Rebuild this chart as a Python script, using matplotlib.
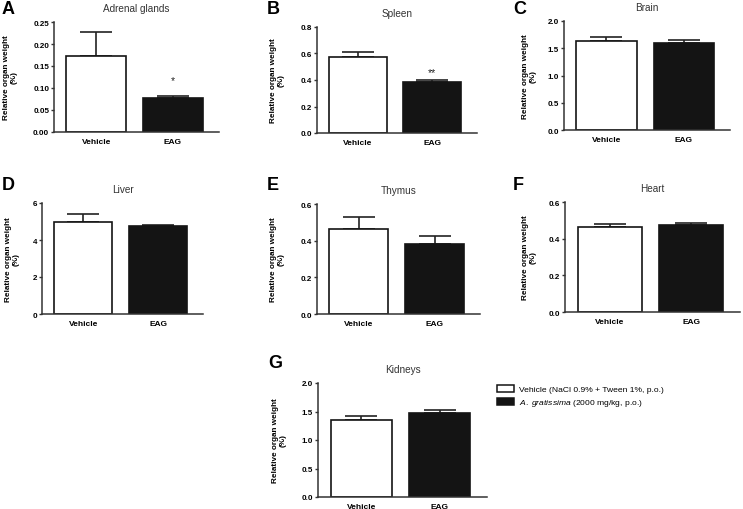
import matplotlib
matplotlib.use("Agg")
import matplotlib.pyplot as plt
from matplotlib.patches import Patch
import numpy as np

plt.rcParams['font.family'] = ['Liberation Sans', 'DejaVu Sans']
plt.rcParams['mathtext.fontset'] = 'custom'
plt.rcParams['mathtext.it'] = 'Liberation Sans:italic'
plt.rcParams['mathtext.rm'] = 'Liberation Sans'

# ---- data ----
groups = ["Vehicle", "EAG"]
panel_letters = ["A", "B", "C", "D", "E", "F", "G"]
organs = ["Adrenal glands", "Spleen", "Brain", "Liver", "Thymus", "Heart", "Kidneys"]
vehicle_mean = [0.172, 0.572, 1.63, 5.00, 0.462, 0.465, 1.35]
vehicle_sem = [0.056, 0.038, 0.07, 0.38, 0.068, 0.014, 0.065]
eag_mean = [0.078, 0.382, 1.60, 4.75, 0.380, 0.472, 1.47]
eag_sem = [0.004, 0.016, 0.05, 0.07, 0.046, 0.012, 0.06]
y_max = [0.25, 0.8, 2.0, 6, 0.6, 0.6, 2.0]
y_step = [0.05, 0.2, 0.5, 2, 0.2, 0.2, 0.5]
y_fmt = ["%.2f", "%.1f", "%.1f", "%d", "%.1f", "%.1f", "%.1f"]
stars = ["*", "**", "", "", "", "", ""]
star_y = [0.118, 0.46, None, None, None, None, None]
legend_labels = ["Vehicle (NaCl 0.9% + Tween 1%, p.o.)",
                 r"$\it{A.\ gratissima}$ (2000 mg/kg, p.o.)"]

# ---- layout (pixels) ----
W, H = 743, 510
# left, right, top, bottom of axes in pixels
boxes = [(54, 219, 23, 133), (317, 477, 28, 134), (564, 730, 22, 131),
         (42, 203, 204, 315), (317, 480, 205, 315), (565, 740, 203, 313),
         (318, 487, 384, 498)]
label_right = [18, 285, 537, 20, 285, 537, 287]
letter_pos = [(2, 10), (267, 9), (513, 10), (2, 186), (267, 186), (513, 186), (268, 364)]

fig = plt.figure(figsize=(W / 100, H / 100), dpi=100)
spine_col = "#333333"
for i in range(7):
    l, r, t, b = boxes[i]
    ax = fig.add_axes([l / W, 1 - b / H, (r - l) / W, (b - t) / H])
    x = np.arange(len(groups))
    means = [vehicle_mean[i], eag_mean[i]]
    sems = [vehicle_sem[i], eag_sem[i]]
    ax.errorbar(x, means, yerr=[[0, 0], sems], fmt='none', ecolor='#222222',
                elinewidth=1.2, capsize=11.5, capthick=1.2, zorder=1)
    ax.bar(x, means, width=0.78, color=["white", "#141414"],
           edgecolor="#141414", linewidth=1.2, zorder=2)
    ax.set_xlim(-0.55, 1.6)
    ax.set_ylim(0, y_max[i])
    ax.set_yticks(np.arange(0, y_max[i] + y_step[i] / 2, y_step[i]))
    ax.yaxis.set_major_formatter(matplotlib.ticker.FormatStrFormatter(y_fmt[i]))
    ax.set_xticks(x)
    ax.set_xticklabels(groups, fontsize=6, fontweight='bold')
    for lab in ax.get_yticklabels():
        lab.set_fontweight('bold')
    ax.tick_params(axis='y', labelsize=5.8, length=2.5, width=1.0, color=spine_col, pad=1)
    ax.tick_params(axis='x', length=0, pad=4)
    for s in ["top", "right"]:
        ax.spines[s].set_visible(False)
    for s in ["left", "bottom"]:
        ax.spines[s].set_color(spine_col)
        ax.spines[s].set_linewidth(1.1)
    ax.set_ylabel("Relative organ weight\n(%)", fontsize=5.9, fontweight='bold',
                  linespacing=1.15)
    ax.yaxis.set_label_coords((label_right[i] - l) / (r - l), 0.5)
    ax.set_title(organs[i], fontsize=7.2, color="#333333", pad=8)
    if stars[i]:
        ax.text(1, star_y[i], stars[i], ha='center', va='center', fontsize=7.5, color="#222222")
    fig.text(letter_pos[i][0] / W, 1 - letter_pos[i][1] / H, panel_letters[i],
             fontsize=13, fontweight='bold', ha='left', va='center')

handles = [Patch(facecolor="white", edgecolor="#141414", linewidth=1.1),
           Patch(facecolor="#141414", edgecolor="#141414", linewidth=1.1)]
fig.legend(handles, legend_labels, loc='upper left',
           bbox_to_anchor=(497 / W, 1 - 386 / H), frameon=False, fontsize=6.1,
           handlelength=2.0, handleheight=0.85, handletextpad=0.6, labelspacing=0.45,
           borderaxespad=0, borderpad=0)

fig.savefig("out.png", dpi=100)
